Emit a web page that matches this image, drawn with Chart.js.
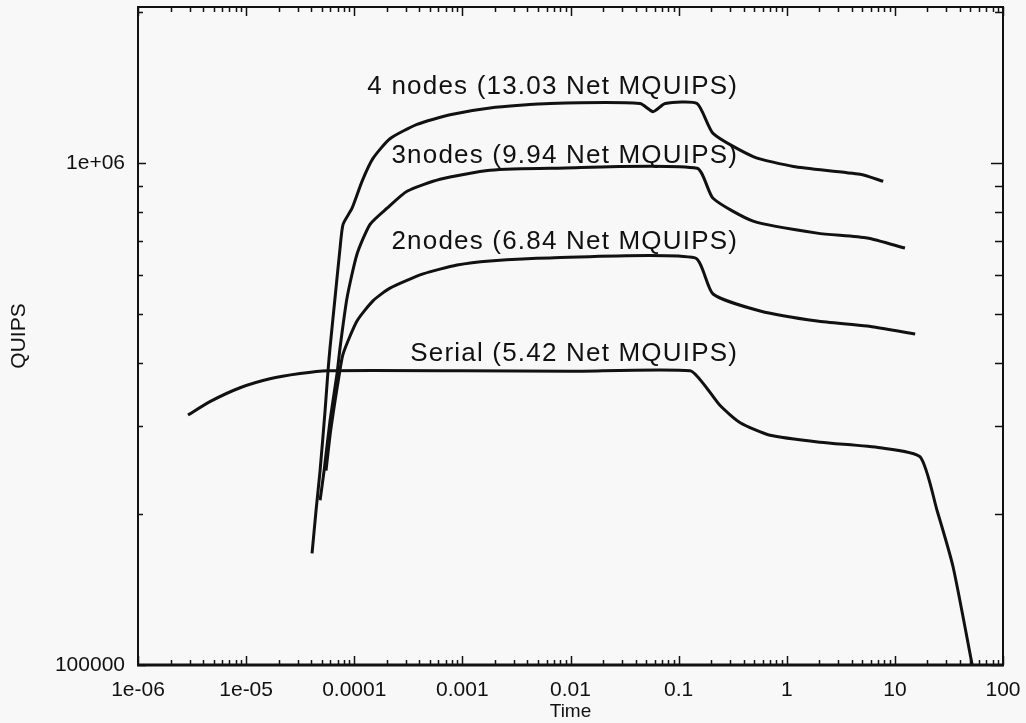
<!DOCTYPE html>
<html>
<head>
<meta charset="utf-8">
<title>QUIPS vs Time</title>
<script src="https://cdn.jsdelivr.net/npm/chart.js@4.4.1/dist/chart.umd.min.js"></script>
<style>
    html, body { margin: 0; padding: 0; background: #f8f8f8; }
    canvas { display: block; }
</style>
</head>
<body>
<canvas id="quipsChart" width="1026" height="723"></canvas>
<script>
// axis ticks (both axes are log)
const xTickValues = [1e-6, 1e-5, 1e-4, 1e-3, 1e-2, 1e-1, 1, 10, 100];
const xTickLabels = ['1e-06', '1e-05', '0.0001', '0.001', '0.01', '0.1', '1', '10', '100'];
const yTickValues = [1e5, 1e6];
const yTickLabels = ['100000', '1e+06'];

const runNames = ['Serial (5.42 Net MQUIPS)', '2nodes (6.84 Net MQUIPS)', '3nodes (9.94 Net MQUIPS)', '4 nodes (13.03 Net MQUIPS)'];

// serial run
const serialTime = [2.9e-6, 4.63e-6, 8.79e-6, 1.66e-5, 3.15e-5, 5.6e-5, 1e-3, 0.01, 0.128, 0.176, 0.242, 0.371, 0.70, 2.04, 7.31, 17.1, 24.6, 34.6, 51.9];
const serialQuips = [3.15e5, 3.35e5, 3.57e5, 3.72e5, 3.81e5, 3.86e5, 3.86e5, 3.85e5, 3.86e5, 3.60e5, 3.29e5, 3.04e5, 2.87e5, 2.78e5, 2.71e5, 2.60e5, 2.03e5, 1.566e5, 1.0e5];

// 2 nodes
const nodes2Time = [5.48e-5, 5.97e-5, 6.64e-5, 7.23e-5, 7.88e-5, 1.06e-4, 1.49e-4, 2.14e-4, 4.33e-4, 8.93e-4, 1.8e-3, 6.47e-3, 0.142, 0.208, 0.568, 1.91, 5.54, 15.4];
const nodes2Quips = [2.44e5, 2.87e5, 3.36e5, 3.77e5, 4.17e5, 4.85e5, 5.32e5, 5.64e5, 6.02e5, 6.27e5, 6.39e5, 6.48e5, 6.48e5, 5.49e5, 5.08e5, 4.85e5, 4.74e5, 4.57e5];

// 3 nodes
const nodes3Time = [4.83e-5, 5.26e-5, 5.97e-5, 6.93e-5, 7.39e-5, 8.57e-5, 1.06e-4, 1.40e-4, 2.01e-4, 3.08e-4, 6.22e-4, 1.8e-3, 6.47e-3, 0.148, 0.208, 0.489, 1.91, 5.54, 12.4];
const nodes3Quips = [2.13e5, 2.44e5, 3.07e5, 3.81e5, 4.29e5, 5.39e5, 6.59e5, 7.56e5, 8.14e5, 8.8e5, 9.3e5, 9.69e5, 9.78e5, 9.78e5, 8.52e5, 7.67e5, 7.26e5, 7.10e5, 6.78e5];

// 4 nodes
const nodes4Time = [4.07e-5, 4.43e-5, 4.83e-5, 5.37e-5, 5.72e-5, 5.97e-5, 6.64e-5, 7.39e-5, 7.88e-5, 9.54e-5, 1.18e-4, 1.49e-4, 2.14e-4, 3.81e-4, 7.69e-4, 1.8e-3, 6.47e-3, 0.044, 0.058, 0.075, 0.148, 0.208, 0.489, 1.15, 4.77, 7.8];
const nodes4Quips = [1.67e5, 2.03e5, 2.44e5, 3.21e5, 3.86e5, 4.29e5, 5.39e5, 6.78e5, 7.56e5, 8.14e5, 9.21e5, 1.023e6, 1.12e6, 1.196e6, 1.25e6, 1.29e6, 1.316e6, 1.316e6, 1.268e6, 1.316e6, 1.316e6, 1.148e6, 1.032e6, 9.86e5, 9.51e5, 9.21e5];

const FONT = '"Liberation Sans", Arial, Helvetica, sans-serif';
const INK = '#111';

function zip(xs, ys) {
    return xs.map((x, i) => ({ x: x, y: ys[i] }));
}

function lineSet(label, xs, ys) {
    return {
        label: label,
        data: zip(xs, ys),
        borderColor: INK,
        borderWidth: 3,
        pointRadius: 0,
        fill: false,
        tension: 0.2
    };
}

// where each run's name sits (right end, baseline), in data units
const labelAnchors = [
    { time: 0.355, quips: 4.04e5 },
    { time: 0.355, quips: 6.74e5 },
    { time: 0.355, quips: 1.0e6 },
    { time: 0.355, quips: 1.372e6 }
];

// box around the plot with inward minor/major ticks on all four sides
const frameTicks = {
    id: 'frameTicks',
    afterDatasetsDraw(chart) {
        const { ctx, chartArea: a, scales: { x, y } } = chart;
        ctx.save();
        ctx.strokeStyle = INK;
        ctx.lineWidth = 2;
        ctx.strokeRect(a.left, a.top, a.right - a.left, a.bottom - a.top);
        ctx.lineWidth = 3;
        ctx.beginPath();
        ctx.moveTo(a.left - 1, a.bottom);
        ctx.lineTo(a.right + 1, a.bottom);
        ctx.stroke();

        ctx.lineWidth = 1.5;
        ctx.beginPath();
        xTickValues.forEach(d => {
            for (let k = 1; k <= 9; k++) {
                const v = d * k;
                if (v > x.max * 1.0001) break;
                const px = Math.round(x.getPixelForValue(v)) + 0.5;
                const len = k === 1 ? 9 : 5;
                ctx.moveTo(px, a.bottom);
                ctx.lineTo(px, a.bottom - len);
                ctx.moveTo(px, a.top);
                ctx.lineTo(px, a.top + len);
            }
        });
        yTickValues.forEach(d => {
            for (let k = 1; k <= 9; k++) {
                const v = d * k;
                if (v > y.max) break;
                const py = Math.round(y.getPixelForValue(v)) + 0.5;
                const len = k === 1 ? 8 : 5;
                ctx.moveTo(a.left, py);
                ctx.lineTo(a.left + len, py);
                ctx.moveTo(a.right, py);
                ctx.lineTo(a.right - (k === 1 ? 12 : 8), py);
            }
        });
        ctx.stroke();

        // run names
        ctx.fillStyle = INK;
        ctx.font = '26px ' + FONT;
        if ('letterSpacing' in ctx) ctx.letterSpacing = '1.2px';
        ctx.textAlign = 'right';
        ctx.textBaseline = 'alphabetic';
        runNames.forEach((name, i) => {
            const p = labelAnchors[i];
            ctx.fillText(name, x.getPixelForValue(p.time), y.getPixelForValue(p.quips));
        });
        ctx.restore();
    }
};

const chartCtx = document.getElementById('quipsChart').getContext('2d');
new Chart(chartCtx, {
    type: 'line',
    data: {
        datasets: [
            lineSet(runNames[0], serialTime, serialQuips),
            lineSet(runNames[1], nodes2Time, nodes2Quips),
            lineSet(runNames[2], nodes3Time, nodes3Quips),
            lineSet(runNames[3], nodes4Time, nodes4Quips)
        ]
    },
    options: {
        responsive: false,
        animation: false,
        layout: { padding: { top: 7, right: 23, left: 0, bottom: 0 } },
        plugins: {
            legend: { display: false },
            tooltip: { enabled: false }
        },
        scales: {
            x: {
                type: 'logarithmic',
                min: 1e-6,
                max: 100,
                afterBuildTicks: s => { s.ticks = xTickValues.map(v => ({ value: v })); },
                afterFit: s => {
                    s.height = 58;
                    s.paddingLeft = 0;
                    s.paddingRight = 0;
                },
                grid: { display: false, drawTicks: false },
                border: { display: false },
                ticks: {
                    autoSkip: false,
                    maxRotation: 0,
                    padding: 13,
                    color: INK,
                    font: { family: FONT, size: 21 },
                    callback: (v, i) => xTickLabels[i]
                },
                title: {
                    display: true,
                    text: 'Time',
                    color: INK,
                    font: { family: FONT, size: 19 },
                    padding: { top: 0, bottom: 0 }
                }
            },
            y: {
                type: 'logarithmic',
                min: 1e5,
                max: 2.05e6,
                afterBuildTicks: s => { s.ticks = yTickValues.map(v => ({ value: v })); },
                afterFit: s => {
                    s.width = 138;
                    s.paddingTop = 0;
                    s.paddingBottom = 0;
                },
                grid: { display: false, drawTicks: false },
                border: { display: false },
                ticks: {
                    autoSkip: false,
                    padding: 13,
                    color: INK,
                    font: { family: FONT, size: 21 },
                    callback: (v, i) => yTickLabels[i]
                },
                title: {
                    display: true,
                    text: 'QUIPS',
                    color: INK,
                    font: { family: FONT, size: 21 },
                    padding: { top: 7, bottom: 0 }
                }
            }
        }
    },
    plugins: [frameTicks]
});
</script>
</body>
</html>
